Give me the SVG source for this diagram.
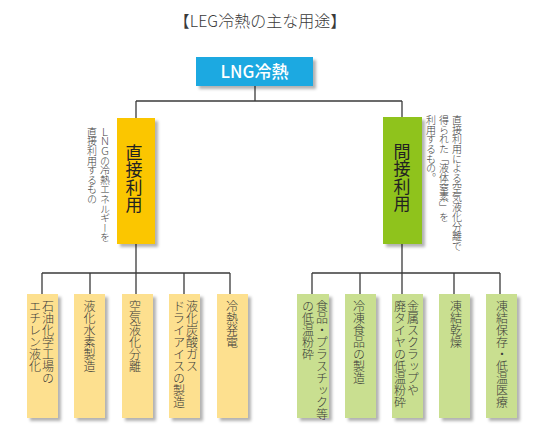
<svg xmlns="http://www.w3.org/2000/svg" width="550" height="439" viewBox="0 0 550 439">
<defs>
<filter id="sh" x="-20%" y="-20%" width="150%" height="150%">
<feDropShadow dx="3" dy="3" stdDeviation="1.5" flood-color="#000" flood-opacity="0.3"/>
</filter>
<style>
text{font-family:"Noto Sans CJK JP","Noto Sans",sans-serif;fill:#3a3a3a;font-weight:300}
.v{writing-mode:vertical-rl;text-orientation:mixed}
.c{font-size:12px}
.n{font-size:10px}
.big{font-size:17px;fill:#222;font-weight:400}
.ly{fill:#fde08f;filter:url(#sh)}
.lg{fill:#c9df90;filter:url(#sh)}
#connectors line{stroke:#3a3a3a;stroke-width:1.3}
</style>
</defs>
<rect width="550" height="439" fill="#fff"/>
<text x="260" y="27" font-size="16" text-anchor="middle">【LEG冷熱の主な用途】</text>
<g id="connectors">
<line x1="255" y1="86" x2="255" y2="101"/>
<line x1="136" y1="101" x2="402" y2="101"/>
<line x1="136" y1="101" x2="136" y2="118"/>
<line x1="402" y1="101" x2="402" y2="118"/>
<line x1="136" y1="244" x2="136" y2="294"/>
<line x1="402" y1="244" x2="402" y2="294"/>
<line x1="42" y1="273" x2="230" y2="273"/>
<line x1="42" y1="273" x2="42" y2="294"/>
<line x1="90" y1="273" x2="90" y2="294"/>
<line x1="184" y1="273" x2="184" y2="294"/>
<line x1="230" y1="273" x2="230" y2="294"/>
<line x1="312" y1="273" x2="500" y2="273"/>
<line x1="312" y1="273" x2="312" y2="294"/>
<line x1="360" y1="273" x2="360" y2="294"/>
<line x1="454" y1="273" x2="454" y2="294"/>
<line x1="500" y1="273" x2="500" y2="294"/>
</g>
<g id="lng">
<rect x="196" y="57" width="117" height="29" fill="#1ea9e1" filter="url(#sh)"/>
<text x="254.5" y="78" font-size="17" text-anchor="middle" style="fill:#fff;font-weight:500">LNG冷熱</text>
</g>
<g id="direct">
<rect x="117" y="118" width="38" height="126" fill="#fbc600" filter="url(#sh)"/>
<text class="v big" x="134" y="144" letter-spacing="0.5">直接利用</text>
<text class="v n" x="105" y="127" letter-spacing="-0.4">ＬＮＧの冷熱エネルギーを</text>
<text class="v n" x="92" y="127" letter-spacing="-0.4">直接利用するもの</text>
</g>
<g id="indirect">
<rect x="383" y="117" width="39" height="127" fill="#8fc31f" filter="url(#sh)"/>
<text class="v big" x="402" y="143" letter-spacing="0.5">間接利用</text>
<text class="v n" x="457" y="115" letter-spacing="-0.3">直接利用による空気液化分離で</text>
<text class="v n" x="444" y="115" letter-spacing="-0.3">得られた「液体窒素」を</text>
<text class="v n" x="431" y="115" letter-spacing="-0.3">利用するもの。</text>
</g>
<g id="c1"><rect class="ly" x="27" y="294" width="31" height="124"/>
<text class="v c" x="48" y="300">石油化学工場の</text>
<text class="v c" x="35" y="300">エチレン液化</text></g>
<g id="c2"><rect class="ly" x="74" y="294" width="31" height="124"/>
<text class="v c" x="89.5" y="300">液化水素製造</text></g>
<g id="c3"><rect class="ly" x="122" y="294" width="31" height="124"/>
<text class="v c" x="135" y="300">空気液化分離</text></g>
<g id="c4"><rect class="ly" x="169" y="294" width="31" height="124"/>
<text class="v c" x="192" y="300">液化炭酸ガス</text>
<text class="v c" x="179" y="300">ドライアイスの製造</text></g>
<g id="c5"><rect class="ly" x="217" y="294" width="31" height="124"/>
<text class="v c" x="232" y="300">冷熱発電</text></g>
<g id="c6"><rect class="lg" x="297" y="294" width="32" height="124"/>
<text class="v c" x="322" y="300">食品・プラスチック等</text>
<text class="v c" x="308" y="300">の低温粉砕</text></g>
<g id="c7"><rect class="lg" x="345" y="294" width="31" height="124"/>
<text class="v c" x="359" y="300">冷凍食品の製造</text></g>
<g id="c8"><rect class="lg" x="392" y="294" width="31" height="124"/>
<text class="v c" x="413" y="300">金属スクラップや</text>
<text class="v c" x="400" y="300">廃タイヤの低温粉砕</text></g>
<g id="c9"><rect class="lg" x="439" y="294" width="31" height="124"/>
<text class="v c" x="456" y="300">凍結乾燥</text></g>
<g id="c10"><rect class="lg" x="486" y="294" width="31" height="124"/>
<text class="v c" x="502" y="300">凍結保存・低温医療</text></g>
</svg>
